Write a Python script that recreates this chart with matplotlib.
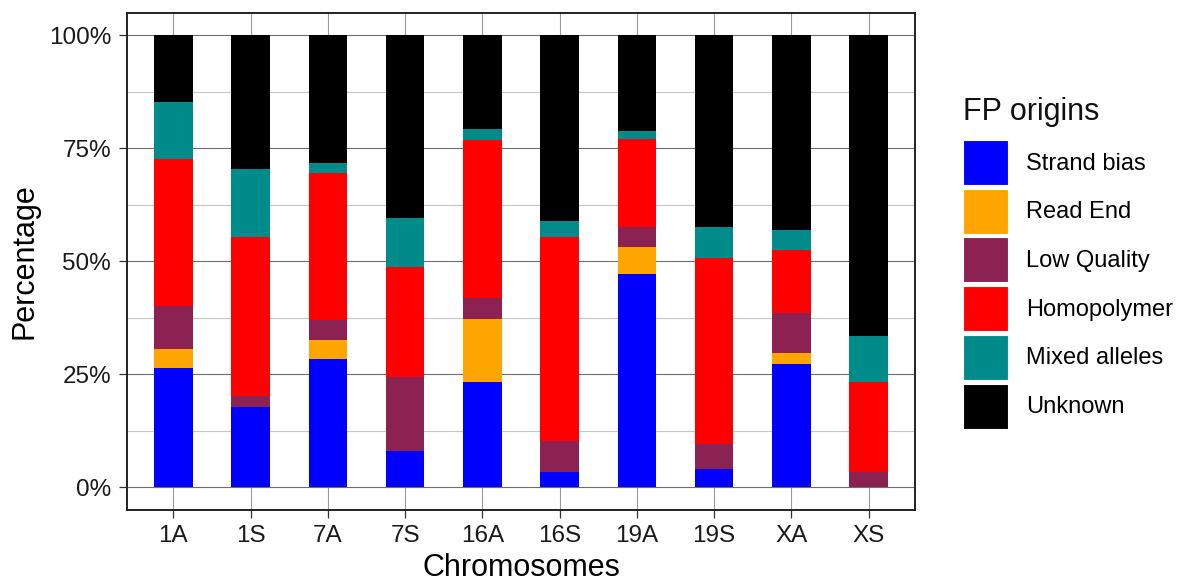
import matplotlib
matplotlib.use("Agg")
import matplotlib.pyplot as plt
from matplotlib.patches import Patch
from matplotlib.ticker import FixedLocator
import numpy as np

plt.rcParams["font.family"] = ["Liberation Sans", "DejaVu Sans"]

chromosomes = ["1A", "1S", "7A", "7S", "16A", "16S", "19A", "19S", "XA", "XS"]
origins = ["Strand bias", "Read End", "Low Quality", "Homopolymer", "Mixed alleles", "Unknown"]
colors = ["#0000FF", "#FFA500", "#8B2252", "#FF0000", "#008B8B", "#000000"]

# percentage of false positives per origin, stacked bottom to top
strand_bias   = [26.3, 17.7, 28.3,  8.1, 23.3,  3.5, 47.1,  4.1, 27.3,  0.0]
read_end      = [ 4.3,  0.0,  4.3,  0.0, 13.9,  0.0,  6.0,  0.0,  2.4,  0.0]
low_quality   = [ 9.5,  2.6,  4.4, 16.3,  4.7,  6.8,  4.5,  5.6,  8.9,  3.3]
homopolymer   = [32.5, 35.1, 32.6, 24.4, 34.9, 45.0, 19.5, 41.0, 13.8, 20.1]
mixed_alleles = [12.7, 14.9,  2.1, 10.7,  2.4,  3.5,  1.7,  6.9,  4.5, 10.0]
unknown       = [14.7, 29.7, 28.3, 40.5, 20.8, 41.2, 21.2, 42.4, 43.1, 66.6]

series = [strand_bias, read_end, low_quality, homopolymer, mixed_alleles, unknown]

W, H = 1179, 583
fig = plt.figure(figsize=(W / 100, H / 100), dpi=100)
ax = fig.add_axes([127 / W, 1 - 510 / H, (915 - 127) / W, (510 - 12.5) / H])

x = np.arange(1, len(chromosomes) + 1)
bottom = np.zeros(len(chromosomes))
for name, vals, col in zip(origins, series, colors):
    vals = np.array(vals)
    ax.bar(x, vals, width=0.5, bottom=bottom, color=col, label=name, zorder=3, linewidth=0)
    bottom += vals

ax.set_xlim(0.4, len(chromosomes) + 0.6)
ax.set_ylim(-5, 105)
ax.set_xticks(x)
ax.set_xticklabels(chromosomes)
ax.set_yticks([0, 25, 50, 75, 100])
ax.set_yticklabels(["0%", "25%", "50%", "75%", "100%"])
ax.yaxis.set_minor_locator(FixedLocator([12.5, 37.5, 62.5, 87.5]))

ax.grid(which="major", axis="y", color="#6e6e6e", linewidth=0.8, zorder=0)
ax.grid(which="minor", axis="y", color="#c4c4c4", linewidth=0.8, zorder=0)
ax.grid(which="major", axis="x", color="#9a9a9a", linewidth=0.8, zorder=0)
ax.set_axisbelow(True)

for s in ax.spines.values():
    s.set_color("#222222")
    s.set_linewidth(1.4)

ax.tick_params(axis="both", which="major", length=6, width=0.9, color="#333333",
               labelsize=17.5, labelcolor="#1a1a1a")
ax.tick_params(axis="x", which="major", pad=4.5)
ax.tick_params(axis="y", which="major", pad=5.5)
ax.tick_params(axis="y", which="minor", length=0)

ax.set_xlabel("Chromosomes", fontsize=22, labelpad=4.5)
ax.set_ylabel("Percentage", fontsize=22, labelpad=6.5)

# legend: title as its own text, keys as square patches
fs = 17
px = fs * 100 / 72
key = 45.0
hh = (key - 0.245 * px) / (0.65 * px)
handles = [Patch(facecolor=c, edgecolor="white", linewidth=0.8) for c in colors]
leg = fig.legend(handles, origins, loc="upper left",
                 bbox_to_anchor=(963 / W, 1 - 140 / H),
                 frameon=False, fontsize=fs,
                 handlelength=key / px, handleheight=hh,
                 labelspacing=(48.7 - key) / px, handletextpad=18 / px,
                 borderpad=0, borderaxespad=0)
fig.text(963 / W, 1 - 120 / H, "FP origins", fontsize=22, ha="left", va="baseline",
         color="#111111")

fig.savefig("out.png", dpi=100)
